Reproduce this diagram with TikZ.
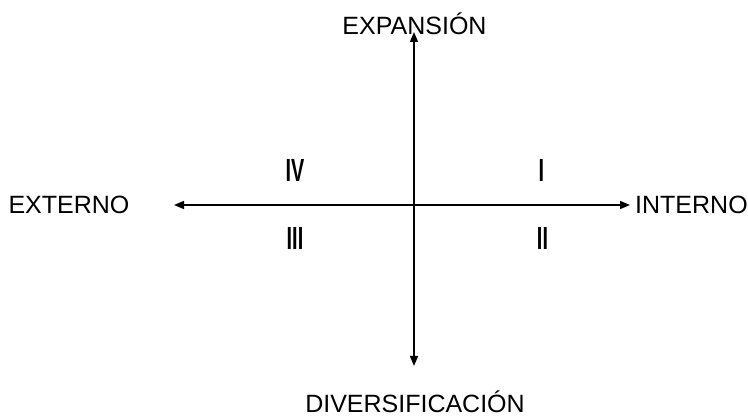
\documentclass[tikz,border=0pt]{standalone}
\usepackage{fontspec}
\setmainfont{Liberation Sans}
\usepackage{graphicx}
\usetikzlibrary{arrows.meta}

\newcommand{\romnum}[1]{\scalebox{0.62}[1]{\bfseries #1}}

\begin{document}
\begin{tikzpicture}[
      x=1pt, y=1pt,
      >={Triangle[length=10pt, width=8pt]},
      axis/.style={<->, line width=1.6pt},
      lbl/.style={inner sep=0pt, anchor=base, font=\fontsize{25}{25}\selectfont},
      quad/.style={inner sep=0pt, anchor=base, font=\fontsize{32}{32}\selectfont}
    ]
    \useasboundingbox (0,0) rectangle (748,417);

    \coordinate (west) at (174,212);
    \coordinate (east) at (630,212);
    \coordinate (north) at (414,385);
    \coordinate (south) at (414,51);

    \node[lbl] (exp) at (414.5,382) {EXPANSIÓN};
    \node[lbl] (div) at (415,4) {DIVERSIFICACIÓN};
    \node[lbl] (ext) at (69,203) {EXTERNO};
    \node[lbl, anchor=base west] (int) at (635,203) {INTERNO};

    \node[quad] (q4) at (295,235) {\romnum{IV}};
    \node[quad] (q1) at (541.5,235) {\romnum{I}};
    \node[quad] (q3) at (295,167) {\romnum{III}};
    \node[quad] (q2) at (542.5,167) {\romnum{II}};

    \draw[axis] (west) -- (east);
    \draw[axis] (south) -- (north);

  \end{tikzpicture}
\end{document}
